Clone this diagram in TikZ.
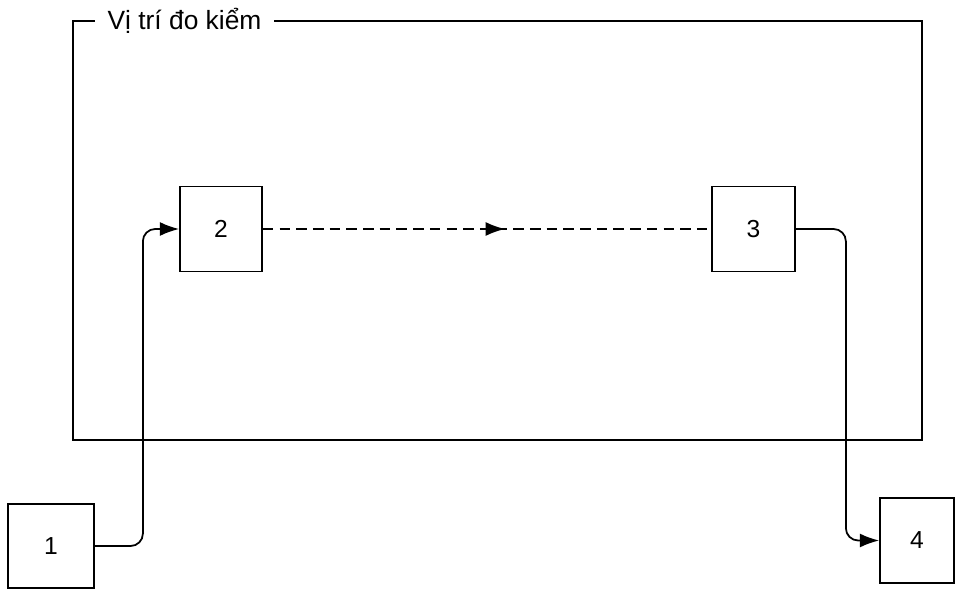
\documentclass[tikz,border=0pt]{standalone}
\usepackage{fontspec}
\setmainfont{Liberation Sans}
\usetikzlibrary{arrows.meta}
\usetikzlibrary{positioning}
\usetikzlibrary{decorations.markings}

\begin{document}
\begin{tikzpicture}[line width=1pt,>={Latex[length=11pt,width=8pt]},
    midarrow/.style={postaction={decorate},decoration={markings,
        mark=at position 0.54 with {\arrow[line width=1pt]{>}}}}]
    \useasboundingbox (0,0) rectangle (19.1,-11.78);
    % frame of the test site
    \draw (1.46,-0.42) rectangle (18.44,-8.8);
    \node[fill=white,inner xsep=7pt,font=\fontsize{15}{18}\selectfont] (site) at (3.69,-0.42) {Vị trí đo kiểm};
    \begin{scope}[every node/.style={rectangle,draw,line width=1pt,font=\fontsize{14}{17}\selectfont}]
    \node[minimum width=1.72cm,minimum height=1.68cm] (n1) at (1.02,-10.92) {1};
    \node[minimum width=1.64cm,minimum height=1.70cm] (n2) at (4.42,-4.58) {2};
    \node[minimum width=1.66cm,minimum height=1.70cm] (n3) at (15.07,-4.58) {3};
    \node[minimum width=1.48cm,minimum height=1.70cm] (n4) at (18.34,-10.81) {4};
    \end{scope}
    \draw[->,rounded corners=7pt] (n1.east) -- ++(0.96,0) |- (n2.west);
    \draw[dash pattern=on 6pt off 3.5pt,midarrow] (n2) -- (n3);
    \draw[->,rounded corners=7pt] (n3.east) -- ++(1.0,0) |- (n4.west);
\end{tikzpicture}
\end{document}
